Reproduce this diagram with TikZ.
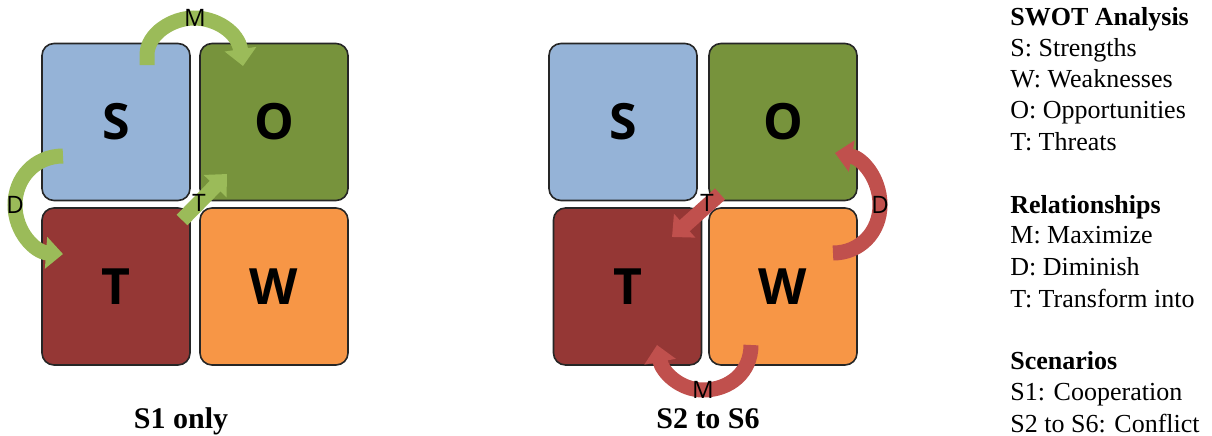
\documentclass[tikz,border=0pt]{standalone}
\usepackage{fontspec}
\setmainfont{Liberation Serif}
\newfontfamily\boxfont{Open Sans}
\usetikzlibrary{arrows.meta}
\definecolor{sblue}{HTML}{95B3D7}
\definecolor{ogreen}{HTML}{77933C}
\definecolor{tred}{HTML}{953735}
\definecolor{worange}{HTML}{F79646}
\definecolor{agreen}{HTML}{9BBB59}
\definecolor{ared}{HTML}{C0504D}
\begin{document}
\begin{tikzpicture}[x=0.5pt,y=-0.5pt,
  quad/.style={draw=black!85, line width=0.8pt, rounded corners=6pt,
    minimum width=74pt, minimum height=78.5pt, inner sep=0pt,
    font=\boxfont\bfseries\fontsize{25}{28}\selectfont},
  garrow/.style={draw=agreen, line width=7.5pt, -{Triangle[width=15.5pt,length=8.5pt]}},
  rarrow/.style={draw=ared, line width=7.5pt, -{Triangle[width=15.5pt,length=8.5pt]}},
  lbl/.style={font=\boxfont\fontsize{12}{14}\selectfont, inner sep=0pt},
  legend/.style={anchor=base west, inner sep=0pt, font=\fontsize{13}{15}\selectfont},
  caption/.style={anchor=base, inner sep=0pt, font=\bfseries\fontsize{15}{17}\selectfont}]
\useasboundingbox (0,0) rectangle (1212,435);

% left diagram
\node[quad, fill=sblue]   (S1) at (116,122) {S};
\node[quad, fill=ogreen]  (O1) at (274,122) {O};
\node[quad, fill=tred]    (T1) at (116,286.5) {T};
\node[quad, fill=worange] (W1) at (274,286.5) {W};

\coordinate (m1a) at (147,65);
\coordinate (m1b) at (243,66);
\draw[garrow] (m1a) -- (147,55) .. controls (147,34) and (172,18) .. (194,18)
  .. controls (216,18) and (238,32) .. (m1b);
\coordinate (d1a) at (63,156);
\coordinate (d1b) at (63,254);
\draw[garrow] (d1a) .. controls (35,156) and (15,178) .. (15,205)
  .. controls (15,232) and (35,252) .. (d1b);
\coordinate (t1a) at (182,220);
\coordinate (t1b) at (227,174);
\draw[garrow] (t1a) -- (t1b);

\node[lbl] (lm1) at (195,18) {M};
\node[lbl] (ld1) at (15,205) {D};
\node[lbl] (lt1) at (199,203) {T};

\node[caption] (c1) at (181,428) {S1 only};

% right diagram
\node[quad, fill=sblue]   (S2) at (623,122) {S};
\node[quad, fill=ogreen]  (O2) at (783,122) {O};
\node[quad, fill=tred]    (T2) at (627.5,286.5) {T};
\node[quad, fill=worange] (W2) at (783,286.5) {W};

\coordinate (t2a) at (720,194);
\coordinate (t2b) at (672,237);
\draw[rarrow] (t2a) -- (t2b);
\coordinate (d2a) at (833,253);
\coordinate (d2b) at (835,153);
\draw[rarrow] (d2a) .. controls (860,253) and (880,232) .. (880,205)
  .. controls (880,178) and (862,158) .. (d2b);
\coordinate (m2a) at (751,345);
\coordinate (m2b) at (657,345);
\draw[rarrow] (m2a) .. controls (751,372) and (730,390) .. (703,390)
  .. controls (680,390) and (662,372) .. (m2b);

\node[lbl] (lt2) at (707,203) {T};
\node[lbl] (ld2) at (880,205) {D};
\node[lbl] (lm2) at (703,390) {M};

\node[caption] (c2) at (708,428) {S2 to S6};

% legend
\node[legend, font=\bfseries\fontsize{13}{15}\selectfont] (g1) at (1010,25) {SWOT Analysis};
\node[legend] (g2) at (1010,56) {S: Strengths};
\node[legend] (g3) at (1010,87) {W: Weaknesses};
\node[legend] (g4) at (1010,118) {O: Opportunities};
\node[legend] (g5) at (1010,150) {T: Threats};
\node[legend, font=\bfseries\fontsize{13}{15}\selectfont] (g6) at (1010,213) {Relationships};
\node[legend] (g7) at (1010,243) {M: Maximize};
\node[legend] (g8) at (1010,275) {D: Diminish};
\node[legend] (g9) at (1010,307) {T: Transform into};
\node[legend, font=\bfseries\fontsize{13}{15}\selectfont] (g10) at (1010,369) {Scenarios};
\node[legend] (g11) at (1010,400) {S1: Cooperation};
\node[legend] (g12) at (1010,432) {S2 to S6: Conflict};
\end{tikzpicture}
\end{document}
